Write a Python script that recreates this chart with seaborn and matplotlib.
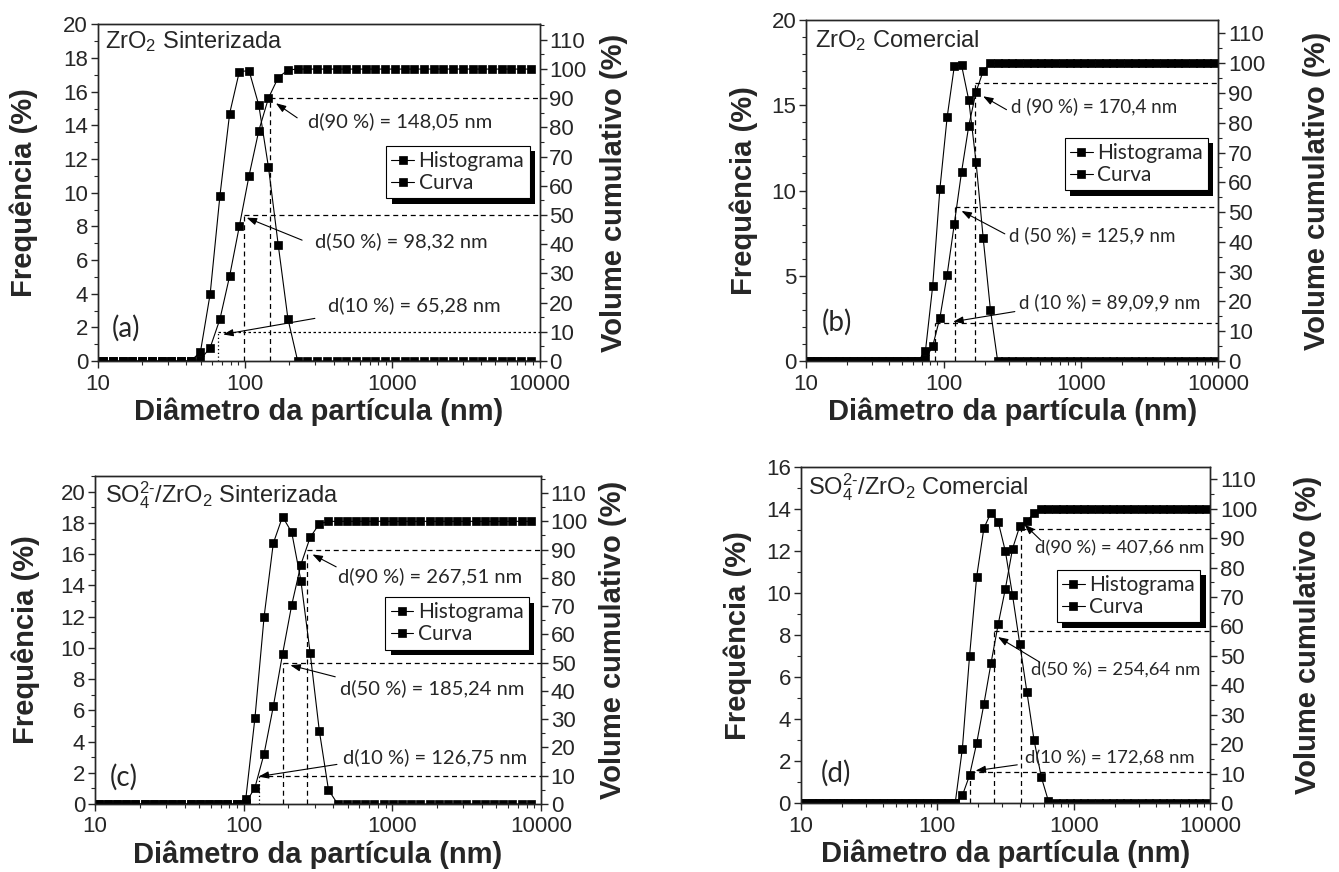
import matplotlib
matplotlib.use("Agg")
import matplotlib.pyplot as plt
import matplotlib.patheffects as pe
from matplotlib.ticker import MultipleLocator, LogLocator, NullFormatter, FuncFormatter
import seaborn as sns

# classes de tamanho (nm)
bins_a = [10.9, 12.7, 14.8, 17.2, 20.0, 23.3, 27.1, 31.6, 36.7, 42.8,
          49.8, 58.0, 67.5, 78.6, 91.5, 106.5, 124, 144.3, 168, 195.6,
          227.7, 265, 308.5, 359, 418, 486.7, 566.6, 659.6, 767.8, 893.8,
          1040, 1211, 1410, 1641, 1910, 2224, 2589, 3013, 3508, 4084,
          4754, 5534, 6442, 7500, 8730]
hist_a = [0] * 10 + [0.54, 4.0, 9.8, 14.7, 17.2, 17.25, 15.2, 11.5, 6.9, 2.5] + [0] * 25
cum_a = [0] * 10 + [0.5, 4.6, 14.3, 29.1, 46.2, 63.5, 78.9, 90.1, 97.1, 99.7] + [100] * 25

bins_bd = [10.68, 12.05, 13.60, 15.35, 17.32, 19.54, 22.06, 24.89, 28.09, 31.70,
           35.77, 40.37, 45.55, 51.40, 58.01, 65.46, 73.88, 83.37, 94.08, 106.2,
           119.8, 135.2, 152.6, 172.2, 194.3, 219.3, 247.5, 279.3, 315.1, 355.6,
           401.3, 452.9, 511.1, 576.8, 650.9, 734.5, 828.9, 935.4, 1056, 1191,
           1344, 1517, 1712, 1932, 2180, 2460, 2777, 3133, 3536, 3990,
           4503, 5082, 5734, 6471, 7303, 8241, 9300]
hist_b = [0] * 16 + [0.6, 4.4, 10.1, 14.3, 17.3, 17.35, 15.3, 11.7, 7.2, 3.0] + [0] * 31
cum_b = [0] * 16 + [0.6, 5.0, 14.5, 29.0, 46.1, 63.5, 79.0, 90.3, 97.4] + [100] * 32

bins_c = [10.56, 12.18, 14.04, 16.19, 18.67, 21.53, 24.83, 28.63, 33.01, 38.07,
          43.90, 50.62, 58.37, 67.31, 77.62, 89.50, 103.2, 119.0, 137.2, 158.2,
          182.5, 210.4, 242.6, 279.8, 322.6, 372.0, 428.9, 494.6, 570.3, 657.7,
          758.4, 874.5, 1008, 1163, 1341, 1546, 1783, 2056, 2371, 2734,
          3153, 3635, 4192, 4834, 5574, 6428, 7412, 8547]
hist_c = [0] * 16 + [0.3, 5.5, 12.0, 16.7, 18.4, 17.4, 14.3, 9.7, 4.7, 0.9] + [0] * 22
cum_c = [0] * 16 + [0.3, 5.8, 17.8, 34.5, 53.0, 70.4, 84.7, 94.3, 99.1] + [100] * 23

hist_d = [0] * 22 + [2.6, 7.0, 10.8, 13.1, 13.85, 13.4, 12.0, 9.9, 7.6, 5.3, 3.0, 1.25, 0.1] + [0] * 22
cum_d = [0] * 22 + [2.6, 9.4, 20.4, 33.6, 47.6, 60.8, 72.8, 86.4, 94.0, 95.7, 98.5] + [100] * 24

# d(10), d(50), d(90): posição x (nm) e nível (%)
marks_a = [(148.05, 90), (98.32, 50), (65.28, 10)]
marks_b = [(170.4, 93.3), (122, 51.7), (87, 12.6)]
marks_c = [(267.51, 90), (185.24, 50), (126.75, 10)]
marks_d = [(408, 93), (262, 58.5), (172.68, 10.5)]

notes_a = [("d(90 %) = 148,05 nm", (268, 82), (226, 83.3), (162, 88.3)),
           ("d(50 %) = 98,32 nm", (298, 41), (244, 41.4), (102.5, 49.1)),
           ("d(10 %) = 65,28 nm", (366, 19), (298, 14.6), (71, 9.1))]
notes_b = [("d (90 %) = 170,4 nm", (312, 85.7), (287, 84.4), (194, 88.9)),
           ("d (50 %) = 125,9 nm", (300, 42.1), (279, 42.7), (135, 50.4)),
           ("d (10 %) = 89,09,9 nm", (355, 19.8), (330, 16.6), (117.5, 13.2))]
notes_c = [("d(90 %) = 267,51 nm", (434, 80.7), (419, 83.9), (290, 88.3)),
           ("d(50 %) = 185,24 nm", (442, 40.9), (413, 45), (206, 49.1)),
           ("d(10 %) = 126,75 nm", (464, 16.7), (424, 14), (126, 9.7))]
notes_d = [("d(90 %) = 407,66 nm", (515, 86.6), (577, 89.1), (435, 94.6)),
           ("d(50 %) = 254,64 nm", (482, 45.1), (561, 47.9), (278, 56.4)),
           ("d(10 %) = 172,68 nm", (435, 15.3), (385, 13), (190.5, 11))]

titles = ["ZrO$_2$ Sinterizada", "ZrO$_2$ Comercial",
          "SO$_4^{2\\text{-}}$/ZrO$_2$ Sinterizada", "SO$_4^{2\\text{-}}$/ZrO$_2$ Comercial"]
tags = ["(a)", "(b)", "(c)", "(d)"]

sns.set_style("ticks")
plt.rcParams['font.family'] = ['Liberation Sans', 'DejaVu Sans']
plt.rcParams['mathtext.fontset'] = 'custom'
plt.rcParams['mathtext.rm'] = 'Liberation Sans'
plt.rcParams['mathtext.it'] = 'Liberation Sans:italic'
plt.rcParams['mathtext.bf'] = 'Liberation Sans:bold'
plt.rcParams['mathtext.default'] = 'regular'
plt.rcParams['axes.linewidth'] = 1.0

myriad = ['Lato', 'DejaVu Sans']

panels = [
    dict(rect=[0.073, 0.586, 0.330, 0.386], bins=bins_a, hist=hist_a, cum=cum_a,
         ymax=20, ystep=2, y2=(0, 115.3), marks=marks_a, notes=notes_a, note_fs=14.5,
         leg=(0.653, 0.639), title_xy=(0.017, 0.95), tag_xy=(0.032, 0.097),
         lpad=18, rpad=10, dotted10=True),
    dict(rect=[0.602, 0.586, 0.308, 0.391], bins=bins_bd, hist=hist_b, cum=cum_b,
         ymax=20, ystep=5, y2=(0, 114.5), marks=marks_b, notes=notes_b, note_fs=13.5,
         leg=(0.627, 0.655), title_xy=(0.022, 0.941), tag_xy=(0.038, 0.114),
         lpad=10, rpad=27, dotted10=False),
    dict(rect=[0.071, 0.078, 0.333, 0.376], bins=bins_c, hist=hist_c, cum=cum_c,
         ymax=21, ystep=2, y2=(0, 116), marks=marks_c, notes=notes_c, note_fs=14.5,
         leg=(0.651, 0.631), title_xy=(0.022, 0.941), tag_xy=(0.032, 0.081),
         lpad=15, rpad=8, dotted10=False),
    dict(rect=[0.598, 0.079, 0.306, 0.385], bins=bins_bd, hist=hist_d, cum=cum_d,
         ymax=16, ystep=2, y2=(0, 114), marks=marks_d, notes=notes_d, note_fs=13.3,
         leg=(0.625, 0.695), title_xy=(0.018, 0.94), tag_xy=(0.05, 0.09),
         lpad=10, rpad=26, dotted10=False),
]

fig = plt.figure(figsize=(13.39, 8.72), dpi=100)

for i, p in enumerate(panels):
    ax = fig.add_axes(p['rect'])
    ax2 = ax.twinx()
    line_kw = dict(color='k', marker='s', markersize=5.2, markeredgecolor='k',
                   markeredgewidth=0.5, linewidth=0.8, legend=False)
    sns.lineplot(x=p['bins'], y=p['hist'], ax=ax, **line_kw)
    sns.lineplot(x=p['bins'], y=p['cum'], ax=ax2, **line_kw)

    ax.set_xscale('log')
    ax.set_xlim(10, 10000)
    ax.set_ylim(0, p['ymax'])
    ax2.set_ylim(*p['y2'])
    ax.xaxis.set_major_locator(LogLocator(base=10, numticks=10))
    ax.xaxis.set_minor_locator(LogLocator(base=10, subs=range(2, 10), numticks=20))
    ax.xaxis.set_minor_formatter(NullFormatter())
    ax.xaxis.set_major_formatter(FuncFormatter(lambda v, pos: f"{v:g}"))
    ax.yaxis.set_major_locator(MultipleLocator(p['ystep']))
    ax.yaxis.set_minor_locator(MultipleLocator(1))
    ax2.yaxis.set_major_locator(MultipleLocator(10))
    ax2.yaxis.set_minor_locator(MultipleLocator(5))
    for a in (ax, ax2):
        a.tick_params(which='major', direction='out', length=5, width=1, labelsize=16, pad=2)
        a.tick_params(which='minor', direction='out', length=3, width=0.8)
    ax.tick_params(axis='x', pad=4)
    ax.tick_params(top=False, right=False)

    ax.set_xlabel('Diâmetro da partícula (nm)', fontsize=21, fontweight='bold', labelpad=2)
    ax.set_ylabel('Frequência (%)', fontsize=21, fontweight='bold', labelpad=p['lpad'])
    ax2.set_ylabel('Volume cumulativo (%)', fontsize=21, fontweight='bold', labelpad=p['rpad'])
    ax2.set_xlim(10, 10000)

    # linhas tracejadas d(10), d(50), d(90)
    for j, (dx, lev) in enumerate(p['marks']):
        hstyle = (0, (4, 3))
        vstyle = (0, (4, 3))
        if j == 2 and p['dotted10']:
            hstyle = (0, (2, 2))
            vstyle = (0, (1, 2))
        elif j == 2 and i == 2:
            vstyle = (0, (1, 2))
        ax2.plot([dx, 10000], [lev, lev], color='k', lw=0.9, ls=hstyle)
        ax2.plot([dx, dx], [0, lev], color='k', lw=0.9, ls=vstyle)

    for txt, tpos, start, tip in p['notes']:
        ax2.text(tpos[0], tpos[1], txt, ha='left', va='center',
                 fontsize=p['note_fs'], family=myriad)
        ax2.annotate('', xy=tip, xytext=start,
                     arrowprops=dict(arrowstyle='-|>,head_length=0.5,head_width=0.18',
                                     color='k', lw=0.8, shrinkA=0, shrinkB=0,
                                     mutation_scale=12))

    ax.text(p['title_xy'][0], p['title_xy'][1], titles[i], transform=ax.transAxes,
            ha='left', va='center', fontsize=17)
    ax.text(p['tag_xy'][0], p['tag_xy'][1], tags[i], transform=ax.transAxes,
            ha='left', va='center', fontsize=20, family=myriad)

    leg = ax2.legend(handles=[ax.lines[0], ax2.lines[0]], labels=['Histograma', 'Curva'],
                     loc='upper left', bbox_to_anchor=p['leg'], bbox_transform=ax2.transAxes,
                     borderaxespad=0, frameon=True, fancybox=False, edgecolor='k',
                     framealpha=1, prop={'family': myriad, 'size': 15},
                     handlelength=1.1, handletextpad=0.2, labelspacing=0.1, borderpad=0.25)
    leg.get_frame().set_linewidth(0.8)
    leg.get_frame().set_path_effects([
        pe.SimplePatchShadow(offset=(4, -4), shadow_rgbFace='k', alpha=1.0), pe.Normal()])

plt.savefig('out.png', dpi=100)
